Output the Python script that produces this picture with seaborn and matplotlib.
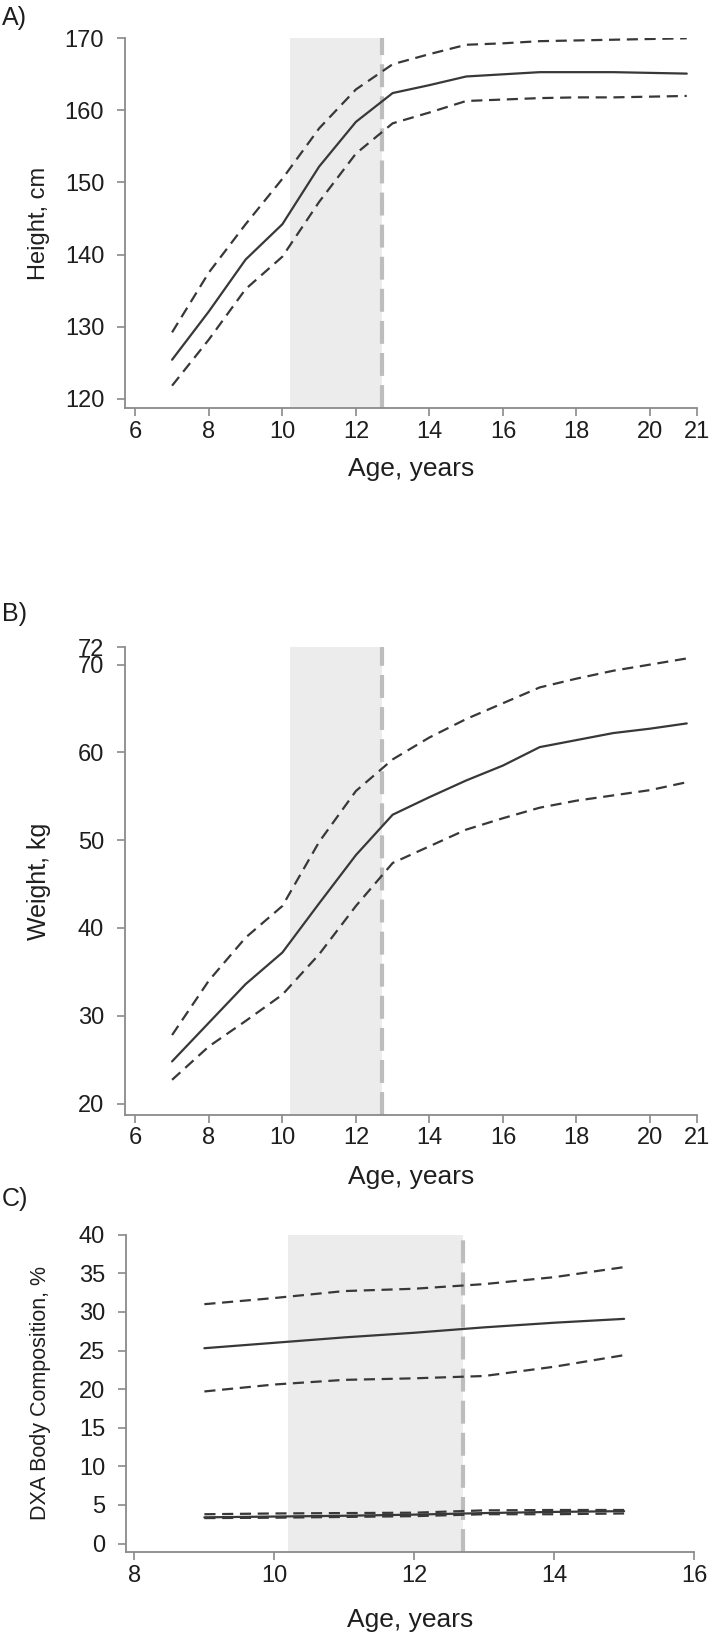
import matplotlib
matplotlib.use('Agg')
import matplotlib.pyplot as plt
import seaborn as sns

# values
age_ab = [7, 8, 9, 10, 11, 12, 13, 14, 15, 16, 17, 18, 19, 20, 21]
height_mean = [125.4, 132.1, 139.3, 144.2, 152.2, 158.4, 162.4, 163.5, 164.7, 165.0, 165.3, 165.3, 165.3, 165.2, 165.1]
height_hi = [129.2, 137.5, 144.2, 150.5, 157.5, 162.9, 166.4, 167.8, 169.1, 169.3, 169.6, 169.7, 169.8, 169.9, 170.0]
height_lo = [121.8, 128.2, 135.2, 139.7, 147.3, 154.0, 158.2, 159.7, 161.3, 161.5, 161.7, 161.8, 161.8, 161.9, 162.0]

weight_mean = [24.8, 29.2, 33.6, 37.2, 42.8, 48.3, 52.9, 54.9, 56.8, 58.5, 60.6, 61.4, 62.2, 62.7, 63.3]
weight_hi = [27.8, 34.0, 38.9, 42.5, 49.8, 55.6, 59.2, 61.7, 63.8, 65.6, 67.4, 68.4, 69.3, 70.0, 70.7]
weight_lo = [22.7, 26.5, 29.4, 32.4, 37.0, 42.5, 47.4, 49.3, 51.2, 52.5, 53.7, 54.5, 55.1, 55.7, 56.6]

age_c = [9, 10, 11, 12, 13, 14, 15]
fat_mean = [25.3, 26.0, 26.7, 27.3, 28.0, 28.6, 29.1]
fat_hi = [31.0, 31.8, 32.7, 33.0, 33.6, 34.5, 35.8]
fat_lo = [19.7, 20.6, 21.2, 21.4, 21.7, 22.9, 24.4]
bone_mean = [3.4, 3.5, 3.6, 3.75, 3.95, 4.1, 4.2]
bone_hi = [3.8, 3.9, 3.95, 4.0, 4.3, 4.35, 4.35]
bone_lo = [3.3, 3.35, 3.45, 3.55, 3.8, 3.8, 3.9]

puberty = (10.2, 12.7)

xticks_ab = [6, 8, 10, 12, 14, 16, 18, 20, 21.28]
xlabels_ab = ['6', '8', '10', '12', '14', '16', '18', '20', '21']

sns.set_style('ticks')
plt.rcParams['font.family'] = ['Liberation Sans', 'DejaVu Sans']

line_col = '#383838'
axis_col = '#8a8a8a'
text_col = '#1e1e1e'

fig = plt.figure(figsize=(7.12, 16.36), dpi=100)
ax_a = fig.add_axes([0.1756, 0.7506, 0.8034, 0.226])
ax_b = fig.add_axes([0.1756, 0.3185, 0.8034, 0.286])
ax_c = fig.add_axes([0.177, 0.0513, 0.7978, 0.194])


def draw_band(ax, x, mean, hi, lo):
    sns.lineplot(x=x, y=mean, ax=ax, color=line_col, lw=1.6)
    sns.lineplot(x=x, y=hi, ax=ax, color=line_col, lw=1.6)
    ax.lines[-1].set_linestyle((0, (5, 3)))
    sns.lineplot(x=x, y=lo, ax=ax, color=line_col, lw=1.6)
    ax.lines[-1].set_linestyle((0, (5, 3)))


def style_axis(ax, ylabel, ymin, ymax, yticks, ylab_size, xlab_y):
    ax.axvspan(puberty[0], puberty[1], color='#ececec', lw=0, zorder=0)
    ax.axvline(puberty[1], color='#bdbdbd', lw=3, ls=(0, (5.5, 2.2)), zorder=1)
    ax.set_ylim(ymin, ymax)
    ax.set_yticks(yticks)
    ax.set_ylabel(ylabel, fontsize=ylab_size, color=text_col)
    ax.yaxis.set_label_coords(-0.15, 0.5)
    ax.yaxis.label.set_va('center')
    ax.set_xlabel('Age, years', fontsize=19, color=text_col)
    ax.xaxis.set_label_coords(0.5, xlab_y)
    ax.xaxis.label.set_va('center')
    sns.despine(ax=ax)
    for s in ['left', 'bottom']:
        ax.spines[s].set_color(axis_col)
        ax.spines[s].set_linewidth(1.3)
    ax.tick_params(colors=axis_col, labelcolor=text_col, labelsize=17, length=6, width=1.2)
    ax.tick_params(axis='y', pad=9)
    ax.tick_params(axis='x', pad=3)


draw_band(ax_a, age_ab, height_mean, height_hi, height_lo)
style_axis(ax_a, 'Height, cm', 118.7, 170, [120, 130, 140, 150, 160, 170], 17, -0.165)
ax_a.set_xlim(5.72, 21.28)
ax_a.set_xticks(xticks_ab, xlabels_ab)

draw_band(ax_b, age_ab, weight_mean, weight_hi, weight_lo)
style_axis(ax_b, 'Weight, kg', 18.7, 72, [20, 30, 40, 50, 60, 70, 72], 18, -0.133)
ax_b.set_xlim(5.72, 21.28)
ax_b.set_xticks(xticks_ab, xlabels_ab)

draw_band(ax_c, age_c, fat_mean, fat_hi, fat_lo)
draw_band(ax_c, age_c, bone_mean, bone_hi, bone_lo)
style_axis(ax_c, 'DXA Body Composition, %', -1.1, 40, [0, 5, 10, 15, 20, 25, 30, 35, 40], 15.5, -0.215)
ax_c.set_xlim(7.88, 16)
ax_c.set_xticks([8, 10, 12, 14, 16])

for lab, y in [('A)', 0.9893), ('B)', 0.625), ('C)', 0.267)]:
    fig.text(0.003, y, lab, fontsize=18, va='center', ha='left', color=text_col)

fig.savefig('out.png', dpi=100)
